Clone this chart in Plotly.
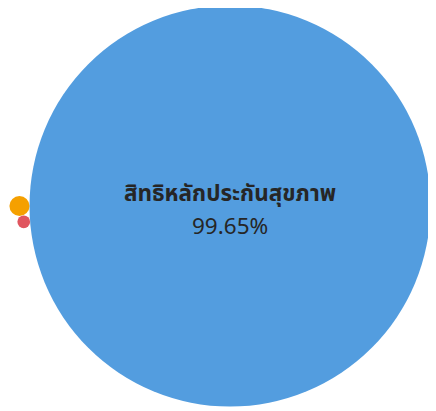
import math
import plotly.graph_objects as go

# Packed bubble: health-coverage rights share (%)
names = ["สิทธิหลักประกันสุขภาพ", "อื่นๆ", "ไม่ระบุ"]
values = [99.65, 0.25, 0.10]
colors = ["#539ddf", "#f5a000", "#e0555f"]

W, H = 436, 411
PAD = 8  # default page margin before the plot div
CENTER = (230, 206)
BIG_DIAM = 401

# area-proportional bubble sizes; plotly radius = sqrt(v / 2 / sizeref)
sizeref = 2 * values[0] / BIG_DIAM ** 2
radii = [math.sqrt(v / 2 / sizeref) for v in values]

# simple packing: biggest in the middle, second touching on the left,
# third touching both of them (below)
xs = [CENTER[0], CENTER[0] - (radii[0] + radii[1])]
ys = [CENTER[1], CENTER[1]]
d01 = radii[0] + radii[2]
d12 = radii[1] + radii[2]
d = radii[0] + radii[1]
cos_a = (d01 ** 2 + d ** 2 - d12 ** 2) / (2 * d01 * d)
a = math.acos(max(-1, min(1, cos_a)))
xs.append(CENTER[0] - d01 * math.cos(a))
ys.append(CENTER[1] + d01 * math.sin(a))

fig = go.Figure(go.Scatter(
    x=xs, y=ys,
    mode="markers",
    marker=dict(size=values, sizemode="area", sizeref=sizeref,
                color=colors, opacity=1, line=dict(width=0)),
    hovertext=[f"{n}: {v:.2f}%" for n, v in zip(names, values)],
    hoverinfo="text",
    cliponaxis=False,
))

# data label of the big bubble: bold name, percentage below
label_font = dict(size=22.5, color="#262626",
                  family="Noto Sans Thai, Tahoma, Noto Sans, sans-serif")
fig.add_annotation(x=xs[0], y=ys[0], text=f"<b>{names[0]}</b>",
                   showarrow=False, yshift=12, font=label_font)
fig.add_annotation(x=xs[0], y=ys[0], text=f"{values[0]:.2f}%",
                   showarrow=False, yshift=-21, font=label_font)

fig.update_layout(
    width=W - PAD, height=H - PAD,
    margin=dict(l=0, r=0, t=0, b=0),
    plot_bgcolor="white",
    paper_bgcolor="white",
    showlegend=False,
    xaxis=dict(range=[PAD, W], visible=False, fixedrange=True),
    yaxis=dict(range=[H, PAD], visible=False, fixedrange=True),
)

fig.write_html("out.html")
